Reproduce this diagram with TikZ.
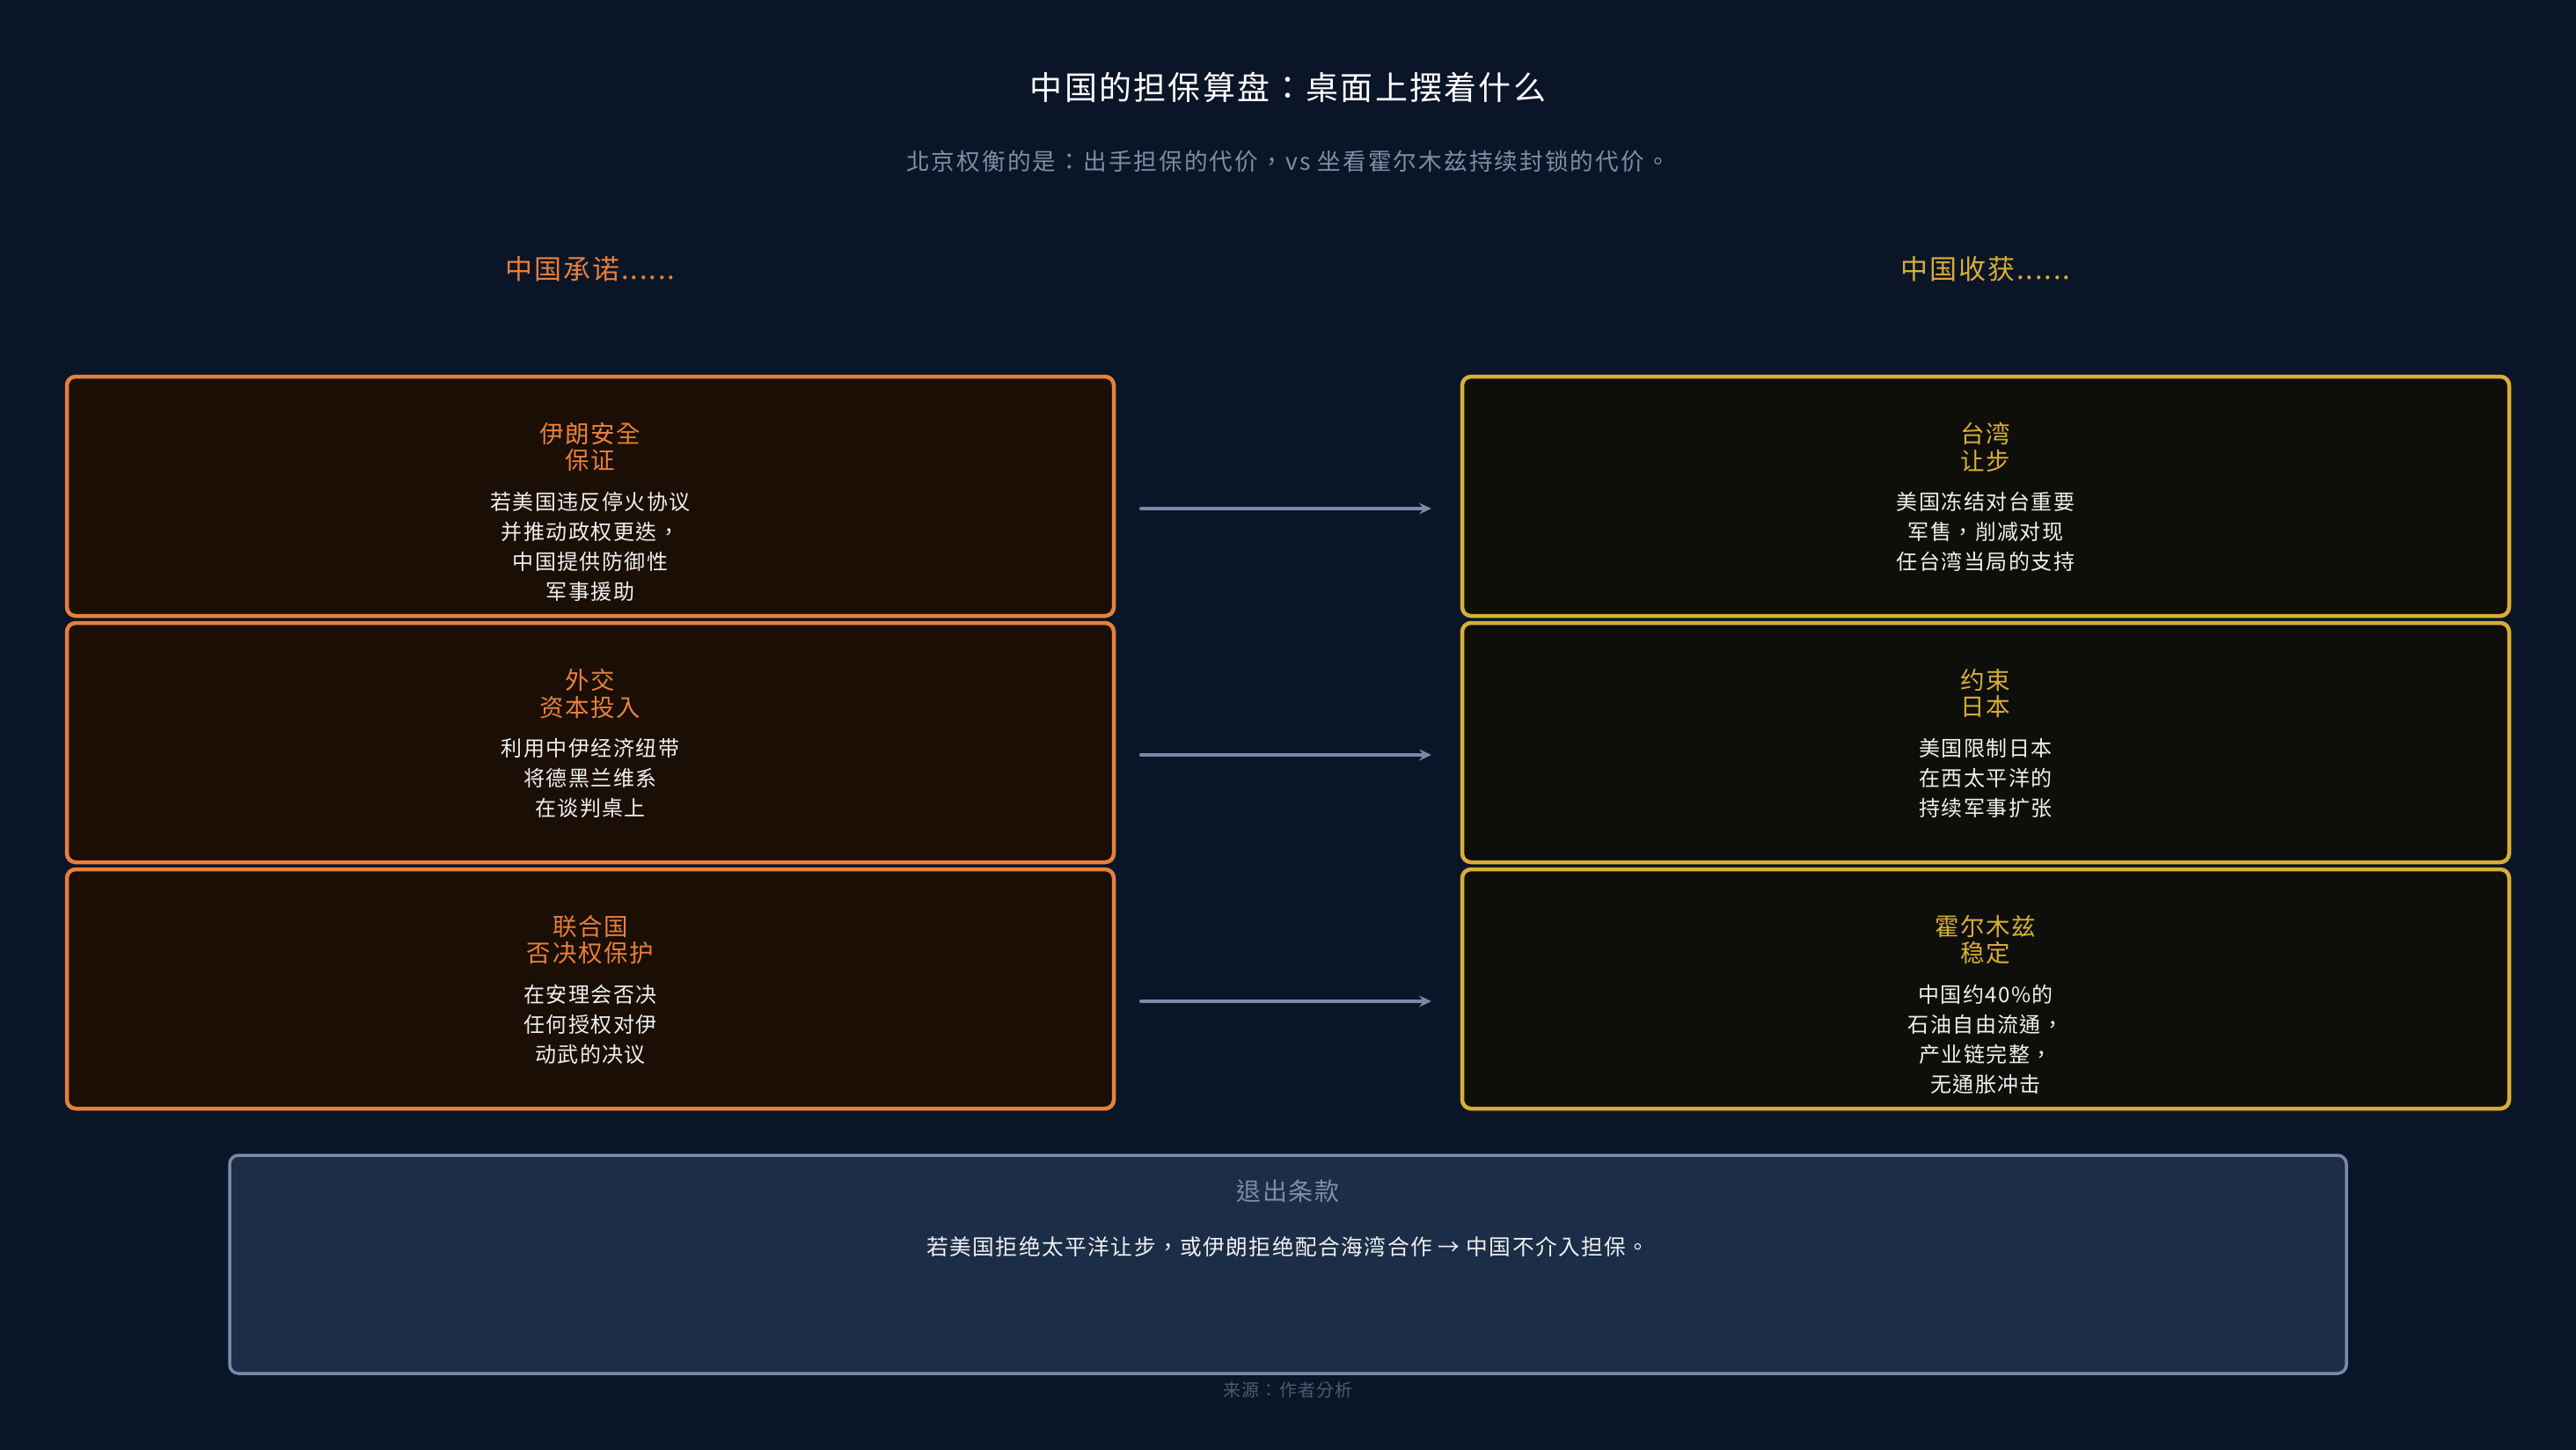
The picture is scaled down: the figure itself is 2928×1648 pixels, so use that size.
\documentclass[tikz,border=0pt]{standalone}
\usepackage{fontspec}
\newfontfamily\cjk[LetterSpace=6]{Noto Sans CJK TC}
\newfontfamily\cjksub[LetterSpace=8]{Noto Sans CJK TC}
\usetikzlibrary{arrows.meta,calc}
\definecolor{bgc}{HTML}{0B1528}
\definecolor{orangec}{HTML}{E8803A}
\definecolor{goldc}{HTML}{D8AE35}
\definecolor{lfill}{HTML}{1A0E05}
\definecolor{rfill}{HTML}{0E0F0A}
\definecolor{arrc}{HTML}{7A8AA8}
\definecolor{subc}{HTML}{7F8DA6}
\definecolor{exitfill}{HTML}{1B2D47}
\definecolor{srcc}{HTML}{4B5A73}
\definecolor{bodyc}{HTML}{F0F0F0}
\tikzset{
  boxbase/.style={line width=4.5pt, rounded corners=10pt, minimum width=1190pt,
    minimum height=272pt, inner sep=0pt, outer sep=0pt},
  lbox/.style={boxbase, draw=orangec, fill=lfill},
  rbox/.style={boxbase, draw=goldc, fill=rfill},
  boxtitle/.style={anchor=north, align=center, inner sep=0pt,
    font=\cjk\fontsize{27.5}{30.5}\selectfont},
  ltitle/.style={boxtitle, text=orangec},
  rtitle/.style={boxtitle, text=goldc},
  boxbody/.style={anchor=north, align=center, inner sep=0pt, text=bodyc,
    font=\cjk\fontsize{24}{34}\selectfont},
  arr/.style={draw=arrc, line width=4pt, line cap=round,
    -{Stealth[length=14pt,width=13pt,inset=5pt]}},
  colhead/.style={inner sep=0pt, font=\cjk\fontsize{31}{33}\selectfont},
}
\begin{document}
\begin{tikzpicture}[x=1pt,y=-1pt]
\fill[bgc] (0,0) rectangle (2928,1648);
\useasboundingbox (0,0) rectangle (2928,1648);

% title and subtitle
\node[inner sep=0pt, text=white, font=\cjk\fontsize{37}{40}\selectfont] (title) at (1464,99) {中国的担保算盘：桌面上摆着什么};
\node[inner sep=0pt, text=subc, font=\cjksub\fontsize{26.6}{30}\selectfont] (subtitle) at (1464,183) {北京权衡的是：出手担保的代价，vs 坐看霍尔木兹持续封锁的代价。};

% column headers
\node[colhead, text=orangec] (hl) at (671,306) {中国承诺......};
\node[colhead, text=goldc] (hr) at (2257,306) {中国收获......};

% left boxes
\node[lbox] (l1) at (671,564) {};
\node[lbox] (l2) at (671,844) {};
\node[lbox] (l3) at (671,1124) {};
% right boxes
\node[rbox] (r1) at (2257,564) {};
\node[rbox] (r2) at (2257,844) {};
\node[rbox] (r3) at (2257,1124) {};

% left texts
\node[ltitle] (l1t) at ($(l1.north)+(0,52)$) {伊朗安全\\保证};
\node[boxbody] (l1b) at ($(l1.north)+(0,131)$) {若美国违反停火协议\\并推动政权更迭，\\中国提供防御性\\军事援助};
\node[ltitle] (l2t) at ($(l2.north)+(0,52)$) {外交\\资本投入};
\node[boxbody] (l2b) at ($(l2.north)+(0,131)$) {利用中伊经济纽带\\将德黑兰维系\\在谈判桌上};
\node[ltitle] (l3t) at ($(l3.north)+(0,52)$) {联合国\\否决权保护};
\node[boxbody] (l3b) at ($(l3.north)+(0,131)$) {在安理会否决\\任何授权对伊\\动武的决议};

% right texts
\node[rtitle] (r1t) at ($(r1.north)+(0,52)$) {台湾\\让步};
\node[boxbody] (r1b) at ($(r1.north)+(0,131)$) {美国冻结对台重要\\军售，削减对现\\任台湾当局的支持};
\node[rtitle] (r2t) at ($(r2.north)+(0,52)$) {约束\\日本};
\node[boxbody] (r2b) at ($(r2.north)+(0,131)$) {美国限制日本\\在西太平洋的\\持续军事扩张};
\node[rtitle] (r3t) at ($(r3.north)+(0,52)$) {霍尔木兹\\稳定};
\node[boxbody] (r3b) at ($(r3.north)+(0,131)$) {中国约40\%的\\石油自由流通，\\产业链完整，\\无通胀冲击};

% arrows
\draw[arr] ($(l1.north east)+(31,150)$) -- ($(r1.north west)+(-35,150)$);
\draw[arr] ($(l2.north east)+(31,150)$) -- ($(r2.north west)+(-35,150)$);
\draw[arr] ($(l3.north east)+(31,150)$) -- ($(r3.north west)+(-35,150)$);

% exit clause
\node[draw=arrc, fill=exitfill, line width=3.5pt, rounded corners=10pt,
  minimum width=2406pt, minimum height=248pt, inner sep=0pt, outer sep=0pt] (exit) at (1464,1437) {};
\node[inner sep=0pt, text=subc, font=\cjk\fontsize{28}{30}\selectfont] (exitt) at ($(exit.north)+(0,41)$) {退出条款};
\node[inner sep=0pt, text=bodyc, font=\cjk\fontsize{24.7}{30}\selectfont] (exitb) at ($(exit.north)+(0,104)$) {若美国拒绝太平洋让步，或伊朗拒绝配合海湾合作 → 中国不介入担保。};

% source
\node[inner sep=0pt, text=srcc, font=\cjk\fontsize{20}{22}\selectfont] (src) at (1464,1580) {来源：作者分析};
\end{tikzpicture}
\end{document}
